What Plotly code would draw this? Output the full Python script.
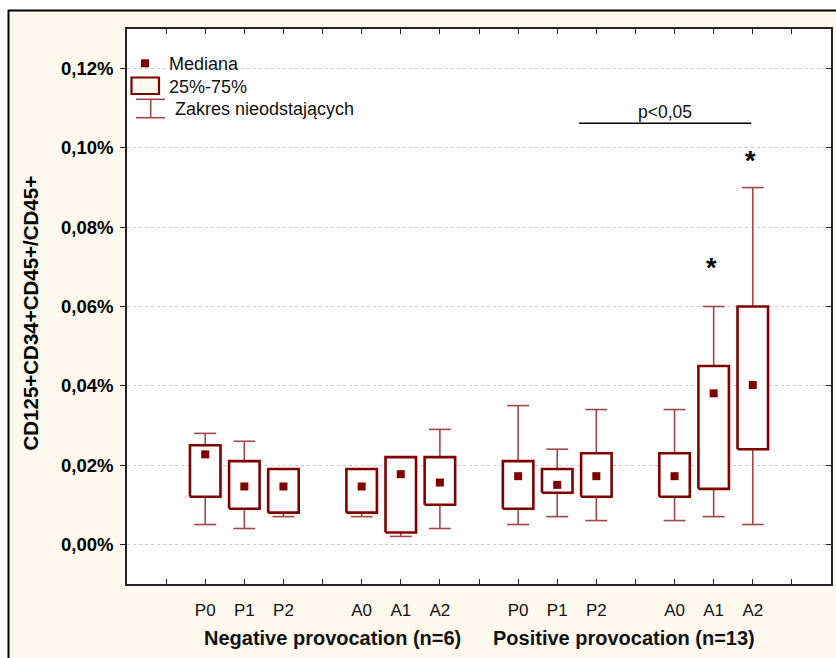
import plotly.graph_objects as go

# ---- data (values in %) ----
group_titles = ["Negative provocation (n=6)", "Positive provocation (n=13)"]
phase_labels = ["P0", "P1", "P2", "A0", "A1", "A2", "P0", "P1", "P2", "A0", "A1", "A2"]
slot = [2, 3, 4, 6, 7, 8, 10, 11, 12, 14, 15, 16]

median = [0.0227, 0.0146, 0.0146, 0.0146, 0.0177, 0.0156,
          0.0172, 0.0150, 0.0172, 0.0172, 0.0381, 0.0402]
q1 = [0.012, 0.009, 0.008, 0.008, 0.003, 0.010,
      0.009, 0.013, 0.012, 0.012, 0.014, 0.024]
q3 = [0.025, 0.021, 0.019, 0.019, 0.022, 0.022,
      0.021, 0.019, 0.023, 0.023, 0.045, 0.060]
lower = [0.005, 0.004, 0.007, 0.007, 0.002, 0.004,
         0.005, 0.007, 0.006, 0.006, 0.007, 0.005]
upper = [0.028, 0.026, 0.019, 0.019, 0.022, 0.029,
         0.035, 0.024, 0.034, 0.034, 0.060, 0.090]

y_ticks = [0.00, 0.02, 0.04, 0.06, 0.08, 0.10, 0.12]
y_tick_text = ["0,00%", "0,02%", "0,04%", "0,06%", "0,08%", "0,10%", "0,12%"]

# significance marks
star_slots = [15, 16]
star_y = [0.0696, 0.0968]
bracket_x = [11.56, 15.96]
bracket_y = 0.1062
bracket_text = "p<0,05"

# ---- styling ----
BOX_COLOR = "#800000"
WHISKER_COLOR = "#a04848"
CREAM = "#fdf9ee"
FONT = "Liberation Sans, Arial, sans-serif"
BOX_HALF = 0.39
CAP_HALF = 0.28

W, H = 836, 658
ML, MR, MT, MB = 127, 5, 29, 74
PW, PH = W - ML - MR, H - MT - MB


def px(x):
    return (x - ML) / PW


def py(y):
    return (H - MB - y) / PH


fig = go.Figure()

# whisker stems and caps
wx, wy = [], []
for s, lo, a, b, hi in zip(slot, lower, q1, q3, upper):
    wx += [s, s, None, s, s, None]
    wy += [lo, a, None, b, hi, None]
    wx += [s - CAP_HALF, s + CAP_HALF, None, s - CAP_HALF, s + CAP_HALF, None]
    wy += [lo, lo, None, hi, hi, None]
fig.add_trace(go.Scatter(x=wx, y=wy, mode="lines",
                         line=dict(color=WHISKER_COLOR, width=1.6),
                         hoverinfo="skip", showlegend=False))

# interquartile boxes
for s, a, b in zip(slot, q1, q3):
    fig.add_trace(go.Scatter(
        x=[s - BOX_HALF, s + BOX_HALF, s + BOX_HALF, s - BOX_HALF, s - BOX_HALF],
        y=[a, a, b, b, a], mode="lines", fill="toself", fillcolor="white",
        line=dict(color=BOX_COLOR, width=2.6), hoverinfo="skip", showlegend=False))

# medians
fig.add_trace(go.Scatter(x=slot, y=median, mode="markers",
                         marker=dict(symbol="square", size=8, color=BOX_COLOR,
                                     line=dict(width=0)),
                         showlegend=False))

# empty trace that anchors the right-hand tick axis
fig.add_trace(go.Scatter(x=[], y=[], yaxis="y2", showlegend=False, hoverinfo="skip"))

shapes = [
    # outer cream panel with black frame
    dict(type="rect", xref="paper", yref="paper", layer="below",
         x0=px(8.5), x1=px(860), y0=py(680), y1=py(10.5),
         fillcolor=CREAM, line=dict(color="black", width=2)),
    # white plotting area
    dict(type="rect", xref="paper", yref="paper", layer="below",
         x0=0, x1=1, y0=0, y1=1, fillcolor="white", line=dict(width=0)),
    # significance bracket
    dict(type="line", xref="x", yref="y", x0=bracket_x[0], x1=bracket_x[1],
         y0=bracket_y, y1=bracket_y, line=dict(color="black", width=1.5)),
    # legend: median marker
    dict(type="rect", xref="paper", yref="paper",
         x0=px(141), x1=px(149), y0=py(67.3), y1=py(59.3),
         fillcolor=BOX_COLOR, line=dict(width=0)),
    # legend: box
    dict(type="rect", xref="paper", yref="paper",
         x0=px(131.5), x1=px(159), y0=py(94), y1=py(77.5),
         fillcolor=CREAM, line=dict(color=BOX_COLOR, width=2.2)),
    # legend: whisker
    dict(type="line", xref="paper", yref="paper",
         x0=px(150.7), x1=px(150.7), y0=py(117.7), y1=py(99.3),
         line=dict(color=WHISKER_COLOR, width=1.6)),
    dict(type="line", xref="paper", yref="paper",
         x0=px(136), x1=px(165), y0=py(99.3), y1=py(99.3),
         line=dict(color=WHISKER_COLOR, width=1.6)),
    dict(type="line", xref="paper", yref="paper",
         x0=px(136), x1=px(165), y0=py(117.7), y1=py(117.7),
         line=dict(color=WHISKER_COLOR, width=1.6)),
]

LEG_FONT = dict(family=FONT, size=18, color="#111")
annotations = [
    dict(text="Mediana", x=px(167), y=py(63.5), xref="paper", yref="paper",
         xanchor="left", yanchor="middle", showarrow=False, font=LEG_FONT),
    dict(text="25%-75%", x=px(167), y=py(87), xref="paper", yref="paper",
         xanchor="left", yanchor="middle", showarrow=False, font=LEG_FONT),
    dict(text="Zakres nieodstających", x=px(172.5), y=py(109.5), xref="paper", yref="paper",
         xanchor="left", yanchor="middle", showarrow=False, font=LEG_FONT),
    dict(text=bracket_text, x=(bracket_x[0] + bracket_x[1]) / 2, y=bracket_y,
         xref="x", yref="y", xanchor="center", yanchor="bottom", yshift=-1,
         showarrow=False, font=dict(family=FONT, size=17.5, color="#111")),
    dict(text="<b>CD125+CD34+CD45+/CD45+</b>", x=px(30), y=py(313.5),
         xref="paper", yref="paper", textangle=-90, showarrow=False,
         xanchor="center", yanchor="middle",
         font=dict(family=FONT, size=20.5, color="black")),
    dict(text="<b>" + group_titles[0] + "</b>", x=px(332.5), y=py(638),
         xref="paper", yref="paper", showarrow=False, xanchor="center", yanchor="middle",
         font=dict(family=FONT, size=20, color="#111")),
    dict(text="<b>" + group_titles[1] + "</b>", x=px(624), y=py(638),
         xref="paper", yref="paper", showarrow=False, xanchor="center", yanchor="middle",
         font=dict(family=FONT, size=20, color="#111")),
]
for sx, sy in zip(star_slots, star_y):
    annotations.append(dict(text="<b>*</b>", x=sx - 0.05, y=sy, xref="x", yref="y",
                            showarrow=False, xanchor="center", yanchor="middle",
                            font=dict(family=FONT, size=27, color="black")))

x_tickvals = list(range(1, 18))
x_ticktext = [phase_labels[slot.index(v)] if v in slot else "" for v in x_tickvals]

fig.update_layout(
    width=W, height=H,
    margin=dict(l=ML, r=MR, t=MT, b=MB),
    paper_bgcolor="white", plot_bgcolor="white",
    showlegend=False,
    shapes=shapes, annotations=annotations,
    xaxis=dict(range=[0, 18], tickvals=x_tickvals, ticktext=x_ticktext,
               ticks="inside", ticklen=5, tickwidth=1, tickcolor="#222",
               showline=True, linecolor="#222", linewidth=1.5, mirror="ticks",
               showgrid=False, zeroline=False, automargin=False,
               ticklabelstandoff=10,
               tickfont=dict(family=FONT, size=17, color="#111")),
    yaxis=dict(range=[-0.01, 0.13], tickvals=y_ticks, ticktext=y_tick_text,
               ticks="outside", ticklen=5, tickwidth=1, tickcolor="#222",
               showline=True, linecolor="#222", linewidth=1.5, mirror=True,
               showgrid=True, gridcolor="#cccccc", griddash="dot", gridwidth=1,
               zeroline=False, automargin=False, ticklabelstandoff=3,
               tickfont=dict(family=FONT, size=18.5, color="black", weight="bold")),
    yaxis2=dict(range=[-0.01, 0.13], tickvals=y_ticks, overlaying="y", side="right",
                ticks="inside", ticklen=5, tickwidth=1, tickcolor="#222",
                showticklabels=False, showgrid=False, zeroline=False,
                showline=False, automargin=False),
)

fig.write_html("out.html")
